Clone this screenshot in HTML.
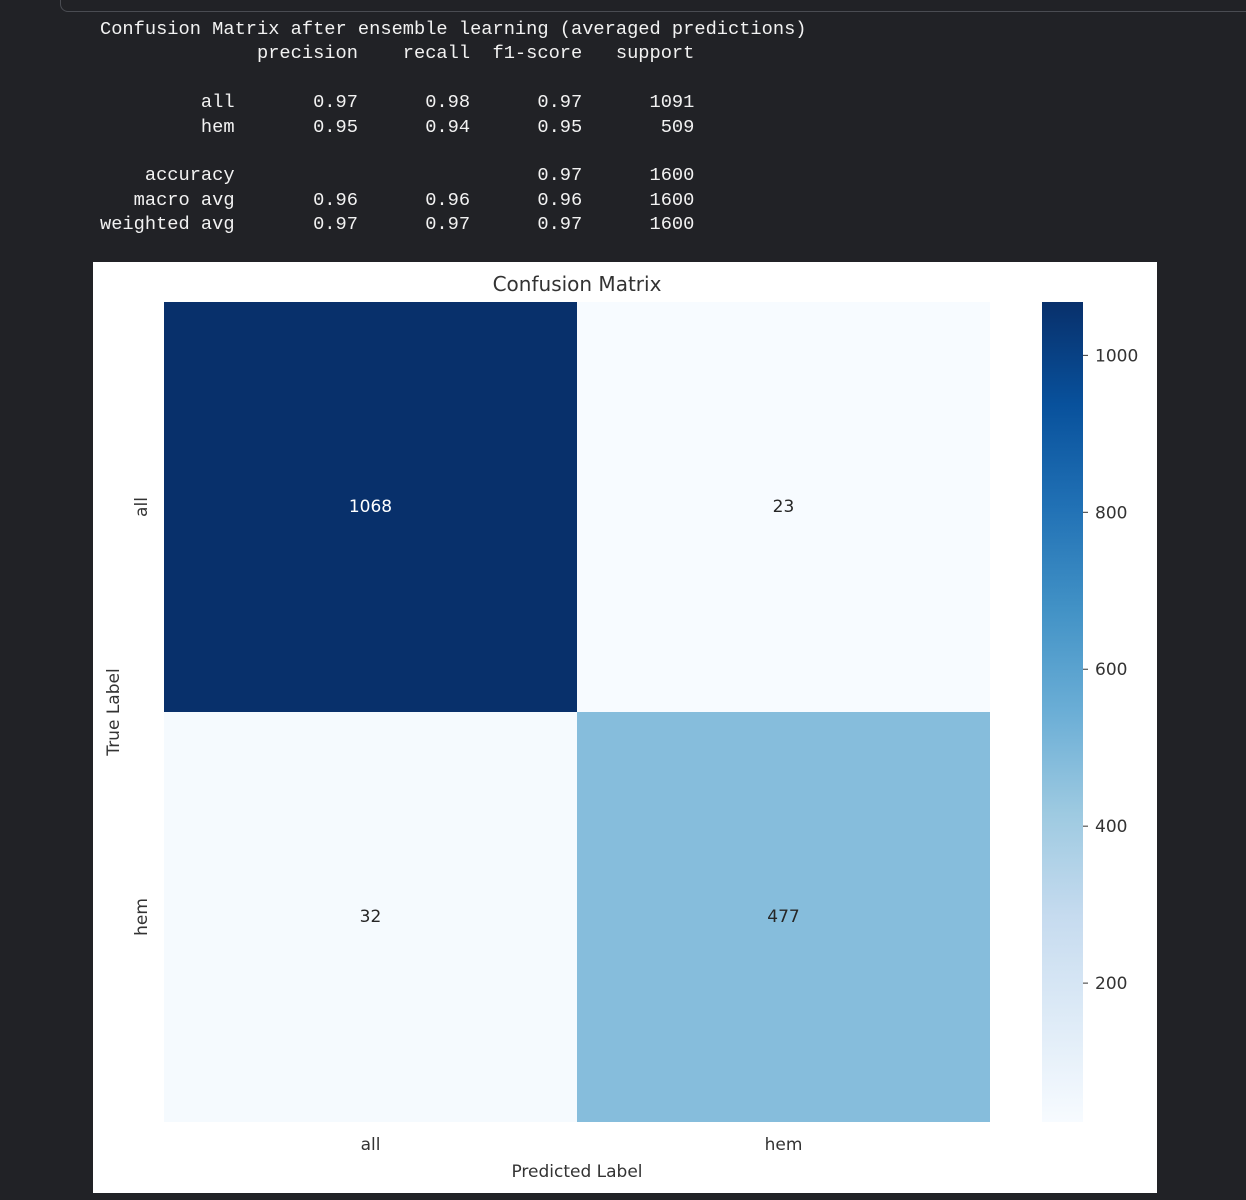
<!DOCTYPE html>
<html><head><meta charset="utf-8"><style>
body{margin:0;width:1246px;height:1200px;background:#212226;overflow:hidden;position:relative;font-family:"DejaVu Sans",sans-serif}
#topbox{position:absolute;left:60px;top:-20px;width:1200px;height:30px;border:1px solid #4a4c52;border-radius:8px}
pre{position:absolute;left:100px;top:17px;margin:0;font-family:"Liberation Mono","DejaVu Sans Mono",monospace;font-size:18.7px;line-height:24.4px;color:#f2f2f2}
#fig{position:absolute;left:93px;top:262px;width:1064px;height:931px;background:#fff}
svg text{font-family:"DejaVu Sans",sans-serif}
</style></head><body>
<div id="topbox"></div>
<pre>Confusion Matrix after ensemble learning (averaged predictions)
              precision    recall  f1-score   support

         all       0.97      0.98      0.97      1091
         hem       0.95      0.94      0.95       509

    accuracy                           0.97      1600
   macro avg       0.96      0.96      0.96      1600
weighted avg       0.97      0.97      0.97      1600</pre>
<div id="fig">
<svg id="svg" width="1064" height="931" xmlns="http://www.w3.org/2000/svg"></svg>
</div>
<script>
const classes=["all","hem"];
const matrix=[[1068,23],[32,477]];
const cbTicks=[200,400,600,800,1000];
const stops=["#f7fbff","#deebf7","#c6dbef","#9ecae1","#6baed6","#4292c6","#2171b5","#08519c","#08306b"];
const NS="http://www.w3.org/2000/svg";
const svg=document.getElementById('svg');
const ox=93,oy=262;
const X0=164-ox,Y0=302-oy,W=826,H=820;
const vals=matrix.flat();const vmin=Math.min(...vals),vmax=Math.max(...vals);
function hex(h){return [1,3,5].map(i=>parseInt(h.substr(i,2),16));}
function cmap(v){let t=(v-vmin)/(vmax-vmin);t=Math.max(0,Math.min(1,t));const p=t*8,i=Math.min(7,Math.floor(p)),f=p-i;const a=hex(stops[i]),b=hex(stops[i+1]);return "rgb("+a.map((c,k)=>Math.round(c+(b[k]-c)*f)).join(",")+")";}
function el(tag,attrs,txt){const e=document.createElementNS(NS,tag);for(const k in attrs)e.setAttribute(k,attrs[k]);if(txt!==undefined)e.textContent=txt;svg.appendChild(e);return e;}
const n=classes.length,cw=W/n,ch=H/n;
function xs(j){return X0+j*cw;}function ys(i){return Y0+i*ch;}
let t=el('text',{x:X0+W/2,y:29,'text-anchor':'middle','font-size':20,fill:'#333'},'Confusion Matrix');


for(let i=0;i<n;i++)for(let j=0;j<n;j++){
 const v=matrix[i][j];
 const r=el('rect',{x:xs(j),y:ys(i),width:cw,height:ch,fill:cmap(v)});
 
 
 const tv=(v-vmin)/(vmax-vmin);
 const lb=el('text',{x:xs(j)+cw/2,y:ys(i)+ch/2+5,'text-anchor':'middle','font-size':17,fill:tv>0.5?'#fff':'#262626'},String(v));
 
 
}
classes.forEach((c,j)=>{
 const a=el('text',{x:xs(j)+cw/2,y:Y0+H+28,'text-anchor':'middle','font-size':17,fill:'#333'},c);
 
 
 const cx=54,cy=ys(j)+ch/2;
 const b=el('text',{x:cx,y:cy,'text-anchor':'middle','font-size':17,fill:'#333',transform:'rotate(-90 '+cx+' '+cy+')'},c);
 
 
});
t=el('text',{x:X0+W/2,y:915,'text-anchor':'middle','font-size':17,fill:'#333'},'Predicted Label');


t=el('text',{x:26,y:Y0+H/2,'text-anchor':'middle','font-size':17,fill:'#333',transform:'rotate(-90 26 '+(Y0+H/2)+')'},'True Label');


const defs=el('defs',{});
const g=document.createElementNS(NS,'linearGradient');g.setAttribute('id','cb');g.setAttribute('x1','0');g.setAttribute('y1','1');g.setAttribute('x2','0');g.setAttribute('y2','0');
stops.forEach((s,k)=>{const st=document.createElementNS(NS,'stop');st.setAttribute('offset',k/8);st.setAttribute('stop-color',s);g.appendChild(st);});
defs.appendChild(g);
const CX=1042-ox,CW=41;
const cb=el('rect',{x:CX,y:Y0,width:CW,height:H,fill:'url(#cb)'});


function cy(v){return Y0+H-(v-vmin)/(vmax-vmin)*H;}
cbTicks.forEach(v=>{
 const y=cy(v);
 el('line',{x1:CX+CW,x2:CX+CW+5,y1:y,y2:y,stroke:'#333','stroke-width':1});
 const l=el('text',{x:CX+CW+12,y:y+6,'font-size':17,fill:'#333'},String(v));
 
 
});
</script>
</body></html>
